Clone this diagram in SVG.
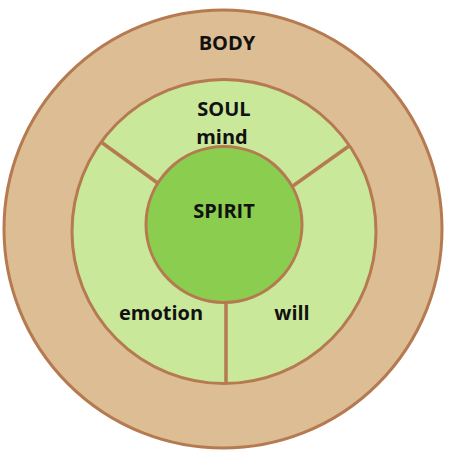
<svg xmlns="http://www.w3.org/2000/svg" width="450" height="455" viewBox="0 0 450 455">
<style>
.ring{stroke:#B57A50;stroke-width:3}
.div{stroke:#B57A50;stroke-width:3.5;fill:none}
text{font-family:"Open Sans","Liberation Sans",sans-serif;font-weight:bold;font-size:20px;fill:#111;text-anchor:middle}
</style>
<rect width="450" height="455" fill="#ffffff"/>
<g id="body">
<circle class="ring" cx="223" cy="229" r="219" fill="#DCBD94"/>
<text x="227" y="50">BODY</text>
</g>
<g id="soul">
<circle class="ring" cx="224" cy="231.5" r="152" fill="#C9E89A"/>
<text x="224" y="116">SOUL</text>
<text x="222" y="144">mind</text>
</g>
<g id="connectors">
<line class="div" x1="101" y1="142" x2="159" y2="184"/>
<line class="div" x1="349" y1="146" x2="290" y2="188"/>
<line class="div" x1="226" y1="298" x2="226" y2="382"/>
</g>
<g id="emotion"><text x="161" y="320">emotion</text></g>
<g id="will"><text x="292" y="320">will</text></g>
<g id="spirit">
<circle class="ring" cx="224" cy="224.5" r="78" fill="#8BCD4E"/>
<text x="224" y="218">SPIRIT</text>
</g>
</svg>
